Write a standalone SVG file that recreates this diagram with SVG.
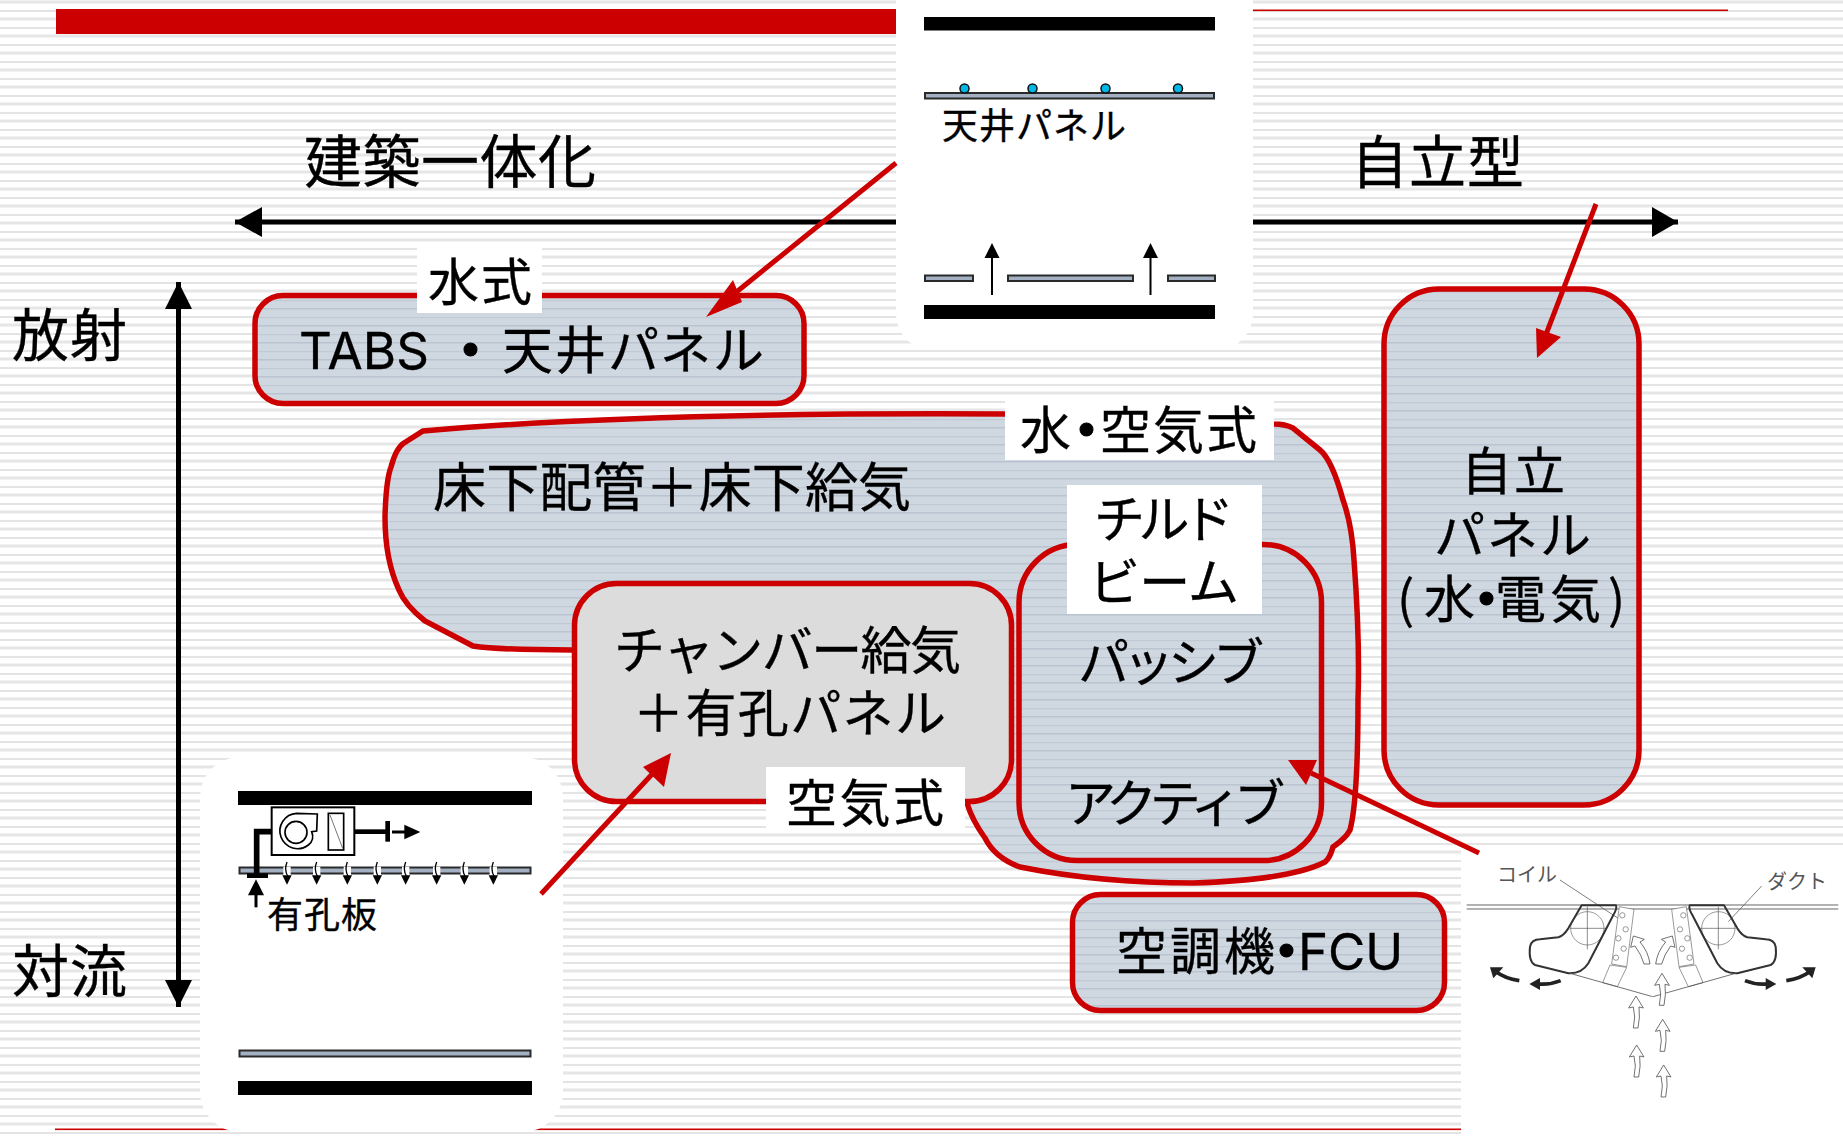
<svg xmlns="http://www.w3.org/2000/svg" width="1843" height="1136" viewBox="0 0 1843 1136">
<style>
text{font-family:"Noto Sans CJK JP","Liberation Sans",sans-serif;fill:#000;stroke:#000;stroke-width:.35px}
.t50{font-size:51px}
.dot{font-weight:700;stroke-width:1px}
.lat{font-family:Inter,"Liberation Sans",sans-serif;font-weight:400}
.node{stroke:#cc0000;stroke-width:5.5;fill:url(#nf)}
.lab{fill:#fff}
.bar{fill:#000}
.panel{fill:#a2b0c2;stroke:#2a2a2a;stroke-width:2}
.red{stroke:#cc0000;stroke-width:5;fill:none}
.redhead{fill:#cc0000}
.grey{fill:#555;stroke:none}
</style>
<defs>
<pattern id="bg" width="17" height="17" patternUnits="userSpaceOnUse">
<rect width="17" height="17" fill="#fff"/>
<rect y="0.5" width="17" height="3" fill="#e6e6e6"/>
<rect y="10" width="17" height="2" fill="#e4e4e4"/>
</pattern>
<pattern id="nf" width="17" height="17" patternUnits="userSpaceOnUse">
<rect width="17" height="17" fill="#cfd7e0"/>
<rect y="2" width="17" height="1.5" fill="#b9c4d0"/>
<rect y="11" width="17" height="1.2" fill="#c0cad5"/>
</pattern>
<path id="curl" d="M0,-48 Q-9,-25 2,-6" fill="none" stroke="#000" stroke-width="4"/>
<path id="curlh" d="M-14,-8 L14,-8 L0,20Z" fill="#000"/>
<path id="hollow" d="M0,0 L22,36 L9,33 Q13,62 6,96 L-8,96 Q0,62 -8,33 L-22,36Z" fill="#fff" stroke="#555" stroke-width="2.5"/>
<g id="diffuser">
<circle cx="382" cy="235" r="50" fill="none" stroke="#666" stroke-width="2"/>
<path d="M382,170V298M330,235H440" stroke="#555" stroke-width="2" fill="none"/>
<path d="M365,166 L468,166 Q472,175 460,195 L385,340 Q365,372 325,370 L225,345 Q205,335 210,290 Q215,268 240,268 L295,262 Q310,258 325,235Z" fill="none" stroke="#333" stroke-width="6" stroke-linejoin="round"/>
<path d="M478,170 L522,178 L500,350 L455,342Z M450,345 L500,352 L472,410 L428,398Z" fill="#fff" stroke="#666" stroke-width="2"/>
<g fill="#fff" stroke="#666" stroke-width="2"><circle cx="487" cy="196" r="8"/><circle cx="497" cy="238" r="8"/><circle cx="475" cy="265" r="8"/><circle cx="491" cy="296" r="8"/><circle cx="468" cy="323" r="8"/></g>
<path d="M330,370 L578,440" stroke="#555" stroke-width="2.500" fill="none"/>
<path d="M178,392 Q135,385 108,365" stroke="#222" stroke-width="11" fill="none"/><path d="M90,352 L130,352 L100,385Z" fill="#222"/>
<path d="M302,392 Q270,405 235,402" stroke="#222" stroke-width="11" fill="none"/><path d="M208,402 L240,384 L240,420Z" fill="#222"/>
<path d="M520,258 L553,268 L540,276 Q565,305 570,342 L552,342 Q545,315 525,288 L512,292Z" fill="#fff" stroke="#555" stroke-width="2.500"/>
</g>
</defs>
<rect id="background" width="1843" height="1136" fill="url(#bg)"/>
<g id="rules">
<rect x="56" y="9" width="860" height="25" fill="#cc0000"/>
<rect x="1251" y="9.500" width="477" height="1.600" fill="#cc0000"/>
<rect x="55" y="1128.500" width="1420" height="1.600" fill="#cc0000"/>
</g>
<g id="axes">
<path d="M235,222H1678" stroke="#000" stroke-width="5" fill="none"/>
<path d="M235,222L262,207V237Z M1678,222L1652,207V237Z" fill="#000"/>
<path d="M178.500,282V1007" stroke="#000" stroke-width="5" fill="none"/>
<path d="M178.500,282L165,309H192Z M178.500,1007L165,980H192Z" fill="#000"/>
</g>
<g id="axis-labels">
<text x="304" y="183" font-size="58" textLength="292">建築一体化</text>
<text x="1351" y="183" font-size="57" textLength="173">自立型</text>
<text x="12" y="356" font-size="57" textLength="115">放射</text>
<text x="12" y="992" font-size="57" textLength="115">対流</text>
</g>
<g id="node-tabs">
<rect class="node" x="255" y="295.500" width="549" height="108" rx="28"/>
<text class="t50" y="369"><tspan class="lat" x="299">TABS</tspan><tspan class="dot" x="445">・</tspan><tspan x="502 555 608 660 713">天井パネル</tspan></text>
</g>
<g id="node-water-air">
<path class="node" d="M423,431 Q640,412 1005,414 L1274,424 Q1285,424 1293,428 L1320,450 Q1332,460 1343,500 Q1352,525 1354,560 Q1360,640 1358,700 Q1358,800 1350,830 Q1346,838 1333,847 Q1330,858 1325,862 Q1290,880 1193,883 Q1100,883 1020,867 Q995,858 985,838 Q972,820 967,803 L700,650 L572,650 Q500,650 473,646 L425,621 Q405,605 399,590 Q385,560 385,517 Q386,480 391,467 Q396,448 404,443Z"/>
<text x="433" y="507" font-size="53" textLength="478">床下配管＋床下給気</text>
</g>
<g id="node-chilled">
<rect class="node" x="1019" y="544.500" width="302.500" height="316" rx="58"/>
<text class="t50" x="1078" y="681" textLength="186">パッシブ</text>
<text class="t50" x="1065" y="822" textLength="220">アクティブ</text>
</g>
<g id="node-chamber">
<rect x="574.500" y="583.500" width="437" height="218" rx="42" fill="#dcdcdc" stroke="#cc0000" stroke-width="5.500"/>
<text class="t50" x="614" y="669" textLength="347">チャンバー給気</text>
<text class="t50" x="633" y="732" textLength="313">＋有孔パネル</text>
</g>
<g id="node-standalone">
<rect class="node" x="1384" y="289" width="255" height="516" rx="55"/>
<text class="t50" x="1461" y="490" textLength="104">自立</text>
<text class="t50" x="1434" y="554" textLength="157">パネル</text>
<text class="t50" y="618"><tspan x="1397 1424">(水</tspan><tspan class="dot" x="1461">・</tspan><tspan x="1495 1550 1608">電気)</tspan></text>
</g>
<g id="node-fcu">
<rect class="node" x="1072.500" y="894.500" width="372" height="116" rx="28"/>
<text class="t50" y="970"><tspan x="1116 1170 1224">空調機</tspan><tspan class="dot" x="1261">・</tspan><tspan class="lat" x="1298">FCU</tspan></text>
</g>
<g id="label-water">
<rect class="lab" x="417" y="245" width="125" height="68"/>
<text class="t50" x="428" y="301" textLength="104">水式</text>
</g>
<g id="label-water-air">
<rect class="lab" x="1005" y="401" width="269" height="59"/>
<text class="t50" y="449"><tspan x="1020">水</tspan><tspan class="dot" x="1061">・</tspan><tspan x="1100 1153 1206">空気式</tspan></text>
</g>
<g id="label-chilled">
<rect class="lab" x="1067" y="485" width="195" height="129"/>
<text class="t50" x="1094" y="538" textLength="140">チルド</text>
<text class="t50" x="1089" y="601" textLength="150">ビーム</text>
</g>
<g id="label-air">
<rect class="lab" x="766" y="767" width="199" height="66"/>
<text class="t50" x="786" y="822" textLength="158">空気式</text>
</g>
<g id="card-ceiling-panel">
<rect x="896" y="-40" width="357" height="390" rx="36" fill="#fff"/>
<rect class="bar" x="924" y="17" width="291" height="13.500"/>
<rect class="panel" x="925" y="93" width="289" height="5.500"/>
<g fill="#00b8e8" stroke="#111" stroke-width="1.500"><circle cx="964.500" cy="88.500" r="4.500"/><circle cx="1032.500" cy="88.500" r="4.500"/><circle cx="1105.500" cy="88.500" r="4.500"/><circle cx="1178" cy="88.500" r="4.500"/></g>
<text x="942" y="139" font-size="36" textLength="184">天井パネル</text>
<rect class="panel" x="925" y="275.500" width="48" height="5.500"/>
<rect class="panel" x="1008" y="275.500" width="125" height="5.500"/>
<rect class="panel" x="1168" y="275.500" width="47" height="5.500"/>
<path d="M992,295V255M1150.500,295V255" stroke="#000" stroke-width="2" fill="none"/>
<path d="M992,243L984.500,258H999.500Z M1150.500,243L1143,258H1158Z" fill="#000"/>
<rect class="bar" x="924" y="305" width="291" height="14"/>
</g>
<g id="card-perforated">
<rect x="200" y="757" width="363" height="375" rx="40" fill="#fff"/>
<rect class="bar" x="238" y="791" width="294" height="14"/>
<rect class="panel" x="239.500" y="867.500" width="291" height="6"/>
<rect class="panel" x="239.500" y="1050.500" width="291" height="6"/>
<rect class="bar" x="238" y="1081" width="294" height="14"/>
<g transform="translate(200,750) scale(0.33333)">
<path d="M170,372V245H214" fill="none" stroke="#000" stroke-width="17"/>
<rect x="141" y="370" width="63" height="14"/>
<rect x="215" y="172" width="248" height="143" fill="#fff" stroke="#000" stroke-width="6"/>
<path d="M352,192 L290,190 A53,53 0 1 0 325,285 Q345,270 335,245 L350,243Z" fill="none" stroke="#000" stroke-width="5"/>
<circle cx="288" cy="247" r="33" fill="none" stroke="#000" stroke-width="5"/>
<rect x="385" y="190" width="46" height="110" fill="none" stroke="#000" stroke-width="5"/>
<path d="M390,195L428,295" stroke="#333" stroke-width="2"/>
<path d="M463,245H558" stroke="#000" stroke-width="14"/>
<rect x="556" y="213" width="14" height="62"/>
<path d="M576,246H620" stroke="#000" stroke-width="9"/>
<path d="M613,224L661,246L613,268Z"/>
<path d="M168,472V430" stroke="#000" stroke-width="9"/>
<path d="M168,388L192,436H144Z"/>
<g id="curls">
<g transform="translate(261,384)"><rect x="-11" y="-34" width="22" height="26" fill="#fff"/><use href="#curl"/><use href="#curlh"/></g>
<g transform="translate(350,384)"><rect x="-11" y="-34" width="22" height="26" fill="#fff"/><use href="#curl"/><use href="#curlh"/></g>
<g transform="translate(442,384)"><rect x="-11" y="-34" width="22" height="26" fill="#fff"/><use href="#curl"/><use href="#curlh"/></g>
<g transform="translate(532,384)"><rect x="-11" y="-34" width="22" height="26" fill="#fff"/><use href="#curl"/><use href="#curlh"/></g>
<g transform="translate(617,384)"><rect x="-11" y="-34" width="22" height="26" fill="#fff"/><use href="#curl"/><use href="#curlh"/></g>
<g transform="translate(710,384)"><rect x="-11" y="-34" width="22" height="26" fill="#fff"/><use href="#curl"/><use href="#curlh"/></g>
<g transform="translate(793,384)"><rect x="-11" y="-34" width="22" height="26" fill="#fff"/><use href="#curl"/><use href="#curlh"/></g>
<g transform="translate(880,384)"><rect x="-11" y="-34" width="22" height="26" fill="#fff"/><use href="#curl"/><use href="#curlh"/></g>
</g>
</g>
<text x="267" y="928" font-size="36" textLength="110">有孔板</text>
</g>
<g id="card-diffuser">
<rect x="1461" y="845" width="382" height="291" fill="#fff"/>
<g transform="translate(1460,850) scale(0.33333)">
<path d="M20,165H1135M20,177H1135" stroke="#666" stroke-width="3" fill="none"/>
<path d="M300,90L490,215M905,108L805,215" stroke="#666" stroke-width="2.500" fill="none"/>
<use href="#diffuser"/>
<use href="#diffuser" transform="matrix(-1,0,0,1,1157,0)"/>
<use href="#hollow" transform="translate(528,438)"/>
<use href="#hollow" transform="translate(530,585)"/>
<use href="#hollow" transform="translate(606,370)"/>
<use href="#hollow" transform="translate(608,508)"/>
<use href="#hollow" transform="translate(611,645)"/>
</g>
<text class="grey" x="1497" y="882" font-size="20" textLength="60">コイル</text>
<text class="grey" x="1767" y="889" font-size="20" textLength="60">ダクト</text>
</g>
<g id="connectors">
<path class="red" d="M896,163L724,302"/><path class="redhead" d="M706,317L733,280L742,302Z"/>
<path class="red" d="M1596,204L1545,337"/><path class="redhead" d="M1537,358L1536,328L1561,337Z"/>
<path class="red" d="M1479,853L1311,773"/><path class="redhead" d="M1288,760L1317,760L1306,785Z"/>
<path class="red" d="M541,894L655,771"/><path class="redhead" d="M671,753L664,787L643,767Z"/>
</g>
</svg>
